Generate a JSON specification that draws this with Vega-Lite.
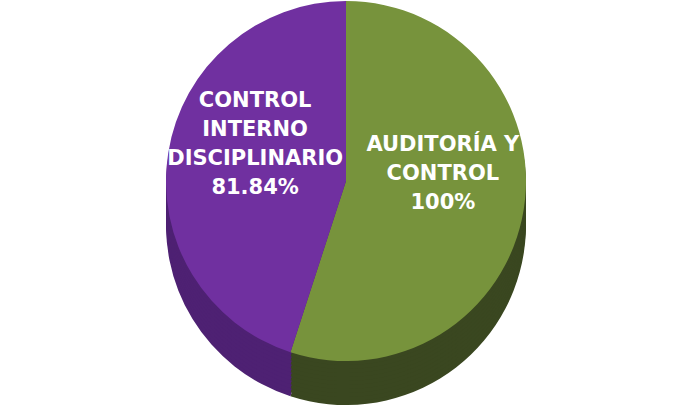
{
  "$schema": "https://vega.github.io/schema/vega-lite/v6.json",
  "width": 692,
  "height": 406,
  "padding": 0,
  "autosize": {"type": "fit", "contains": "padding"},
  "config": {"view": {"stroke": null}},
  "data": {
    "values": [
      {"area": "AUDITORÍA Y CONTROL", "pct": 100, "label": "AUDITORÍA Y\nCONTROL\n100%", "order": 1},
      {"area": "CONTROL INTERNO DISCIPLINARIO", "pct": 81.84, "label": "CONTROL\nINTERNO\nDISCIPLINARIO\n81.84%", "order": 2}
    ]
  },
  "encoding": {
    "theta": {"field": "pct", "type": "quantitative", "stack": true},
    "order": {"field": "order", "type": "quantitative"}
  },
  "layer": [
    {"mark": {"type": "arc", "radius": 180, "yOffset": 22}, "encoding": {"fill": {"field": "area", "type": "nominal", "legend": null, "scale": {"domain": ["AUDITORÍA Y CONTROL", "CONTROL INTERNO DISCIPLINARIO"], "range": ["#3A4720", "#4E2173"]}}}},
    {"mark": {"type": "arc", "radius": 180, "yOffset": 18}, "encoding": {"fill": {"field": "area", "type": "nominal", "legend": null}}},
    {"mark": {"type": "arc", "radius": 180, "yOffset": 14}, "encoding": {"fill": {"field": "area", "type": "nominal", "legend": null}}},
    {"mark": {"type": "arc", "radius": 180, "yOffset": 10}, "encoding": {"fill": {"field": "area", "type": "nominal", "legend": null}}},
    {"mark": {"type": "arc", "radius": 180, "yOffset": 6}, "encoding": {"fill": {"field": "area", "type": "nominal", "legend": null}}},
    {"mark": {"type": "arc", "radius": 180, "yOffset": 2}, "encoding": {"fill": {"field": "area", "type": "nominal", "legend": null}}},
    {"mark": {"type": "arc", "radius": 180, "yOffset": -2}, "encoding": {"fill": {"field": "area", "type": "nominal", "legend": null}}},
    {"mark": {"type": "arc", "radius": 180, "yOffset": -6}, "encoding": {"fill": {"field": "area", "type": "nominal", "legend": null}}},
    {"mark": {"type": "arc", "radius": 180, "yOffset": -10}, "encoding": {"fill": {"field": "area", "type": "nominal", "legend": null}}},
    {"mark": {"type": "arc", "radius": 180, "yOffset": -14}, "encoding": {"fill": {"field": "area", "type": "nominal", "legend": null}}},
    {"mark": {"type": "arc", "radius": 180, "yOffset": -18}, "encoding": {"fill": {"field": "area", "type": "nominal", "legend": null}}},
    {"mark": {"type": "arc", "radius": 180, "yOffset": -22}, "encoding": {"color": {"field": "area", "type": "nominal", "legend": null, "scale": {"domain": ["AUDITORÍA Y CONTROL", "CONTROL INTERNO DISCIPLINARIO"], "range": ["#77933C", "#7030A0"]}}}},
    {"mark": {"type": "text", "radius": 92, "yOffset": -22, "dy": -66, "color": "white", "font": "DejaVu Sans", "fontWeight": "bold", "fontSize": 21, "lineHeight": 29, "lineBreak": "\n", "align": "center", "baseline": "middle"}, "encoding": {"text": {"condition": {"test": "datum.order == 2", "field": "label"}, "value": ""}}},
    {"mark": {"type": "text", "radius": 92, "yOffset": -22, "dy": -50, "dx": 6, "color": "white", "font": "DejaVu Sans", "fontWeight": "bold", "fontSize": 21, "lineHeight": 29, "lineBreak": "\n", "align": "center", "baseline": "middle"}, "encoding": {"text": {"condition": {"test": "datum.order == 1", "field": "label"}, "value": ""}}}
  ]
}
